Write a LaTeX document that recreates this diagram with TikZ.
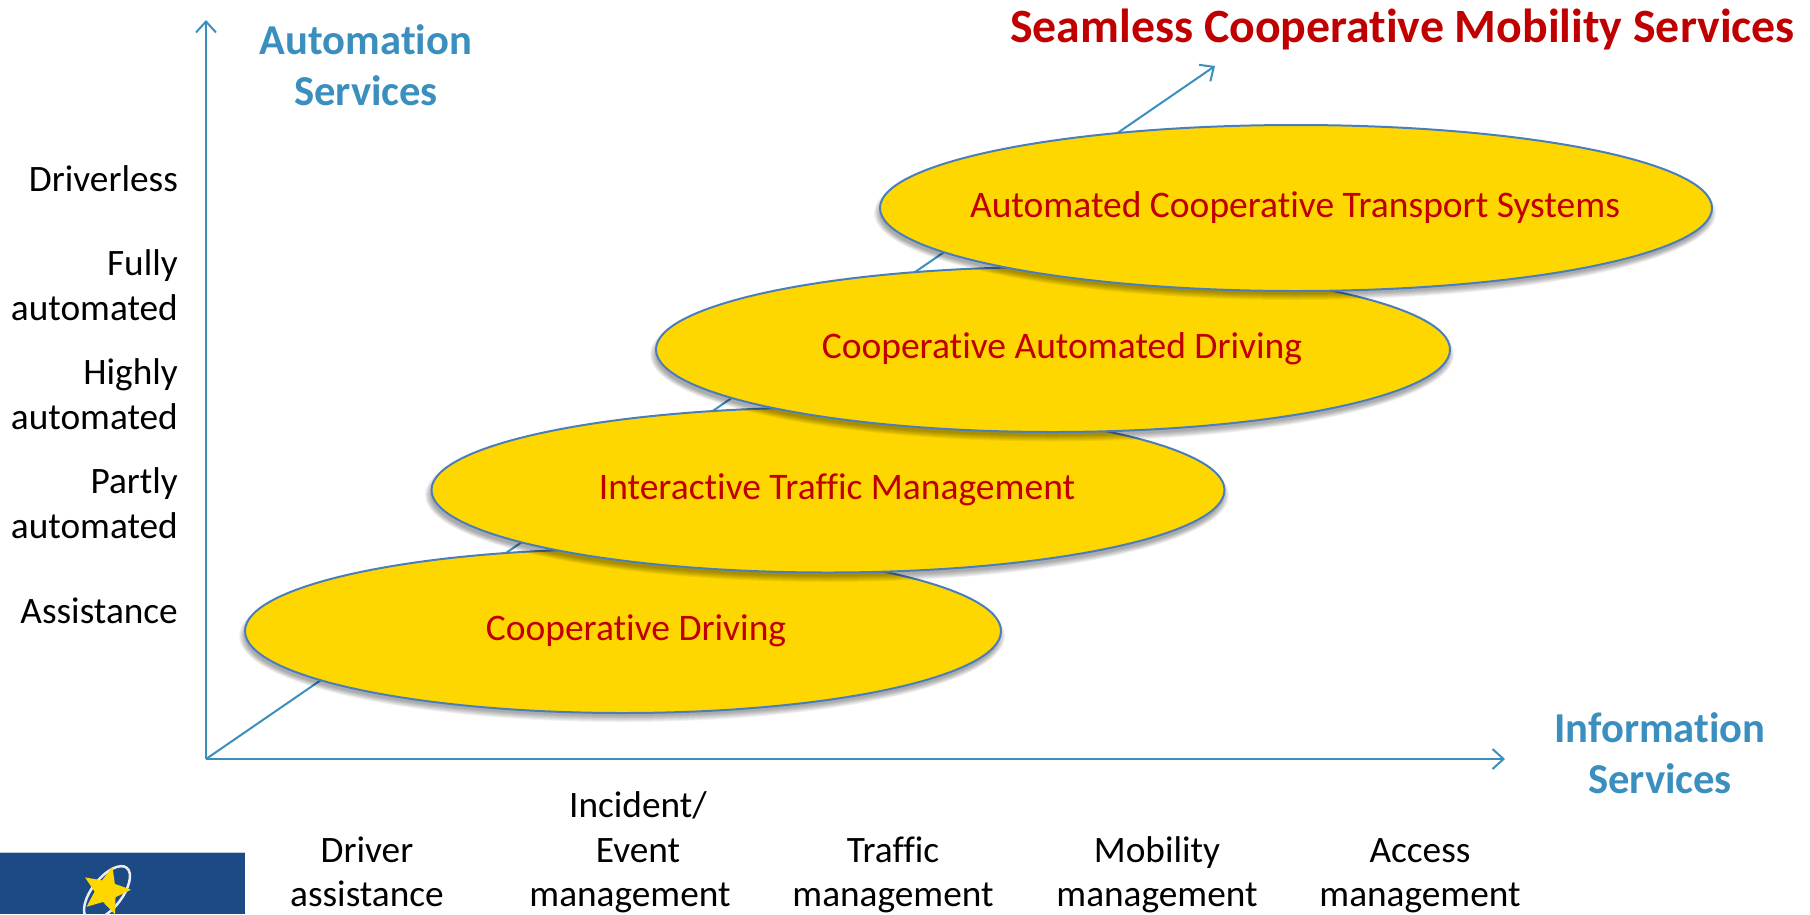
\documentclass[tikz,border=0pt]{standalone}
\usepackage{fontspec}
\setmainfont[Ligatures=NoCommon]{Carlito}
\usetikzlibrary{shapes.geometric,arrows.meta}
\definecolor{axisblue}{HTML}{3A8FBE}
\definecolor{ellline}{HTML}{4A7EBB}
\definecolor{ellfill}{HTML}{FFD700}
\definecolor{redtxt}{HTML}{C00000}
\definecolor{logoblue}{HTML}{1C4A84}
\newcommand{\bodysize}{\fontsize{37.3}{44.5}\selectfont}
\newcommand{\ovalsize}{\fontsize{37.5}{44.5}\selectfont}
\newcommand{\headsize}{\fontsize{42.6}{51}\selectfont\bfseries}
\newcommand{\titlesize}{\fontsize{47.8}{51}\selectfont\bfseries}
\tikzset{x=1pt,y=-1pt,
 axisline/.style={draw=axisblue,line width=2pt},
 axisarrow/.style={axisline,-{Straight Barb[length=11pt,width=20pt,line width=2pt]}},
 oval/.style={ellipse,draw=ellline,line width=2pt,fill=ellfill,inner sep=0pt},
 ovaltxt/.style={text=redtxt,font=\ovalsize,inner sep=0pt,anchor=base},
 lefttxt/.style={align=right,anchor=east,font=\bodysize,inner sep=0pt},
 bottomtxt/.style={align=center,anchor=base,font=\bodysize,inner sep=0pt},
 headtxt/.style={align=center,text=axisblue,font=\headsize,inner sep=0pt},
}
\newcommand{\softshadow}[4]{% cx cy rx ry
 \foreach \g in {6,5,4,3,2,1,0}{
  \fill[black,opacity=0.055] (#1-1,#2+5) ellipse [x radius=#3+\g-1,y radius=#4+\g-2];
 }
}
\begin{document}
\begin{tikzpicture}
\useasboundingbox (0,0) rectangle (1810,914);
% axes
\coordinate (origin) at (206,759);
\coordinate (ytip) at (206,20);
\coordinate (xtip) at (1505,759);
\coordinate (dtip) at (1215,66);
\draw[axisarrow] (origin) -- (ytip);
\draw[axisarrow] (origin) -- (xtip);
\draw[axisarrow] (origin) -- (dtip);
% ellipses
\softshadow{623}{631}{378}{82}
\node[oval,minimum width=756pt,minimum height=164pt] (e1) at (623,631) {};
\softshadow{828}{490}{397}{83}
\node[oval,minimum width=793pt,minimum height=165pt] (e2) at (828,490) {};
\softshadow{1053}{349.5}{397}{83}
\node[oval,minimum width=794pt,minimum height=165pt] (e3) at (1053,349.5) {};
\softshadow{1296}{208}{416}{83}
\node[oval,minimum width=832pt,minimum height=166pt] (e4) at (1296,208) {};
% ellipse labels
\node[ovaltxt] (l4) at (1295,217) {Automated Cooperative Transport Systems};
\node[ovaltxt] (l3) at (1062,358) {Cooperative Automated Driving};
\node[ovaltxt] (l2) at (837,499) {Interactive Traffic Management};
\node[ovaltxt] (l1) at (636,640) {Cooperative Driving};
% headings
\node[headtxt] (h1) at (366,65) {Automation\\Services};
\node[headtxt] (h2) at (1660,753) {Information\\Services};
\node[headtxt,font=\titlesize,text=redtxt,anchor=east] (h3) at (1795,29) {Seamless Cooperative Mobility Services};
% left labels
\node[lefttxt] (a1) at (178,179) {Driverless};
\node[lefttxt] (a2) at (178,285) {Fully\\automated};
\node[lefttxt] (a3) at (178,394) {Highly\\automated};
\node[lefttxt] (a4) at (178,503) {Partly\\automated};
\node[lefttxt] (a5) at (178,611) {Assistance};
% bottom labels
\node[bottomtxt] (b1) at (367,906.5) {Driver\\assistance};
\node[bottomtxt] (b2) at (630,906.5) {\hspace*{16pt}Incident/\\\hspace*{16pt}Event\\management};
\node[bottomtxt] (b3) at (893,906.5) {Traffic\\management};
\node[bottomtxt] (b4) at (1157,906.5) {Mobility\\management};
\node[bottomtxt] (b5) at (1420,906.5) {Access\\management};
% logo
\fill[logoblue] (0,852) rectangle (245,914);
\draw[white!70!logoblue,line width=0.8pt] (0,852) -- (245,852);
\begin{scope}
\clip (0,852) rectangle (245,914);
\draw[white!90!logoblue,line width=2.5pt,rotate around={52:(107,893)}] (107,893) ellipse [x radius=32,y radius=15];
\node[star,star points=5,star point ratio=2.2,fill=ellfill,inner sep=0pt,minimum size=50pt,rotate=-15] (logostar) at (106,891) {};
\end{scope}
\end{tikzpicture}
\end{document}
